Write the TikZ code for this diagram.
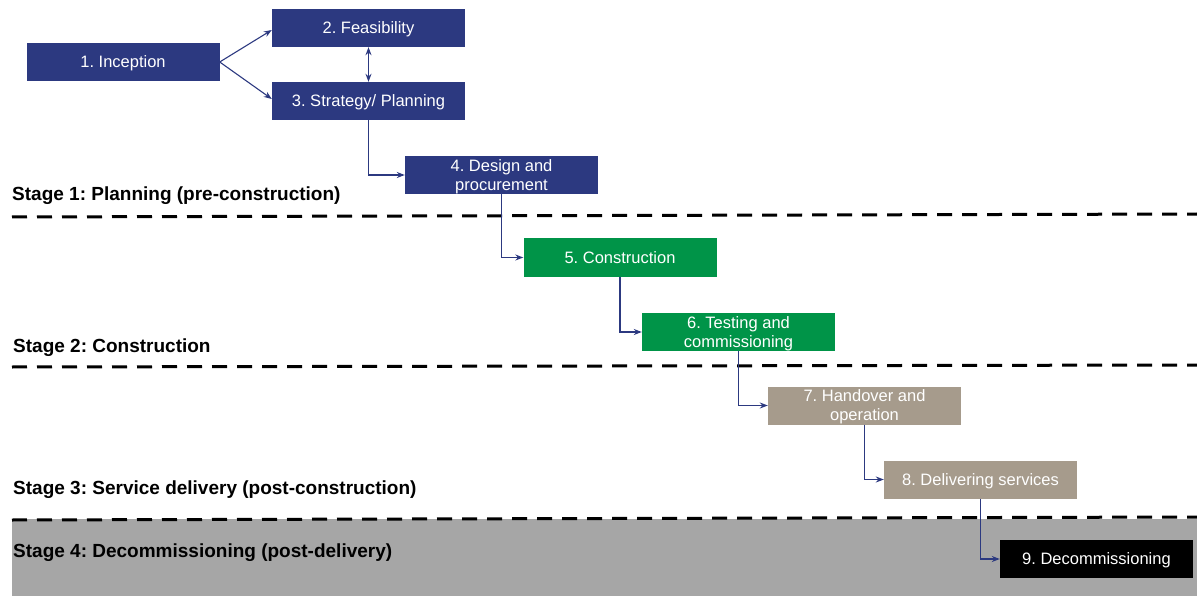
\documentclass[tikz,border=0pt]{standalone}
\usepackage{fontspec}
\setmainfont{Liberation Sans}
\usetikzlibrary{arrows.meta}
\frenchspacing

\definecolor{navy}{RGB}{44,57,128}
\definecolor{leaf}{RGB}{0,148,72}
\definecolor{taupe}{RGB}{166,155,140}
\definecolor{band}{RGB}{166,166,166}

\tikzset{
    phase/.style={minimum width=193pt, minimum height=38pt, inner sep=0pt, text depth=0pt,
        text=white, align=center, font=\fontsize{16.5}{19}\selectfont},
    link/.style={navy, line width=1.1pt, -{Stealth[length=8pt,width=6pt]}},
    stageline/.style={line width=3pt, dash pattern=on 15pt off 10pt},
    stagelabel/.style={anchor=west, inner sep=0pt, font=\fontsize{19}{22}\selectfont\bfseries}
}

\begin{document}
\begin{tikzpicture}[x=1pt, y=-1pt]
        \useasboundingbox (0,0) rectangle (1197,596);

        % Shade the last stage
        \fill[band] (12,519) rectangle (1197,596);

        % Draw the stage borders
        \draw[stageline] (12,217) -- (1197,214);
        \draw[stageline] (12,367) -- (1197,365);
        \draw[stageline] (12,520) -- (1197,517);

        % Label the stages
        \node[stagelabel] (s1) at (12,196) {Stage 1: Planning (pre-construction)};
        \node[stagelabel] (s2) at (13,348) {Stage 2: Construction};
        \node[stagelabel] (s3) at (13,490) {Stage 3: Service delivery (post-construction)};
        \node[stagelabel] (s4) at (13,553) {Stage 4: Decommissioning (post-delivery)};

        % Draw the phases
        \node[phase, fill=navy] (inception) at (123,62) {1. Inception};
        \node[phase, fill=navy] (feasibility) at (368.5,28) {2. Feasibility};
        \node[phase, fill=navy] (strategy) at (368.5,101) {3. Strategy/ Planning};
        \node[phase, fill=navy] (design) at (501.5,175) {4. Design and\\procurement};
        \node[phase, fill=leaf] (construction) at (620,257.5) {5. Construction};
        \node[phase, fill=leaf] (testing) at (738.5,332) {6. Testing and\\commissioning};
        \node[phase, fill=taupe] (handover) at (864.5,405.5) {7. Handover and\\operation};
        \node[phase, fill=taupe] (services) at (980.5,479.5) {8. Delivering services};
        \node[phase, fill=black] (decommission) at (1096.5,559) {9. Decommissioning};

        % Connect the phases
        \draw[link] (inception.east) -- (feasibility.south west |- 0,30);
        \draw[link] (inception.east) -- (strategy.south west |- 0,99);
        \draw[link, {Stealth[length=8pt,width=6pt]}-{Stealth[length=8pt,width=6pt]}] (feasibility) -- (strategy);
        \draw[link] (strategy.south) |- (design.west);
        \draw[link] (design.south) |- (construction.west);
        \draw[link] (construction.south) |- (testing.west);
        \draw[link] (testing.south) |- (handover.west);
        \draw[link] (handover.south) |- (services.west);
        \draw[link] (services.south) |- (decommission.west);
    \end{tikzpicture}
\end{document}
